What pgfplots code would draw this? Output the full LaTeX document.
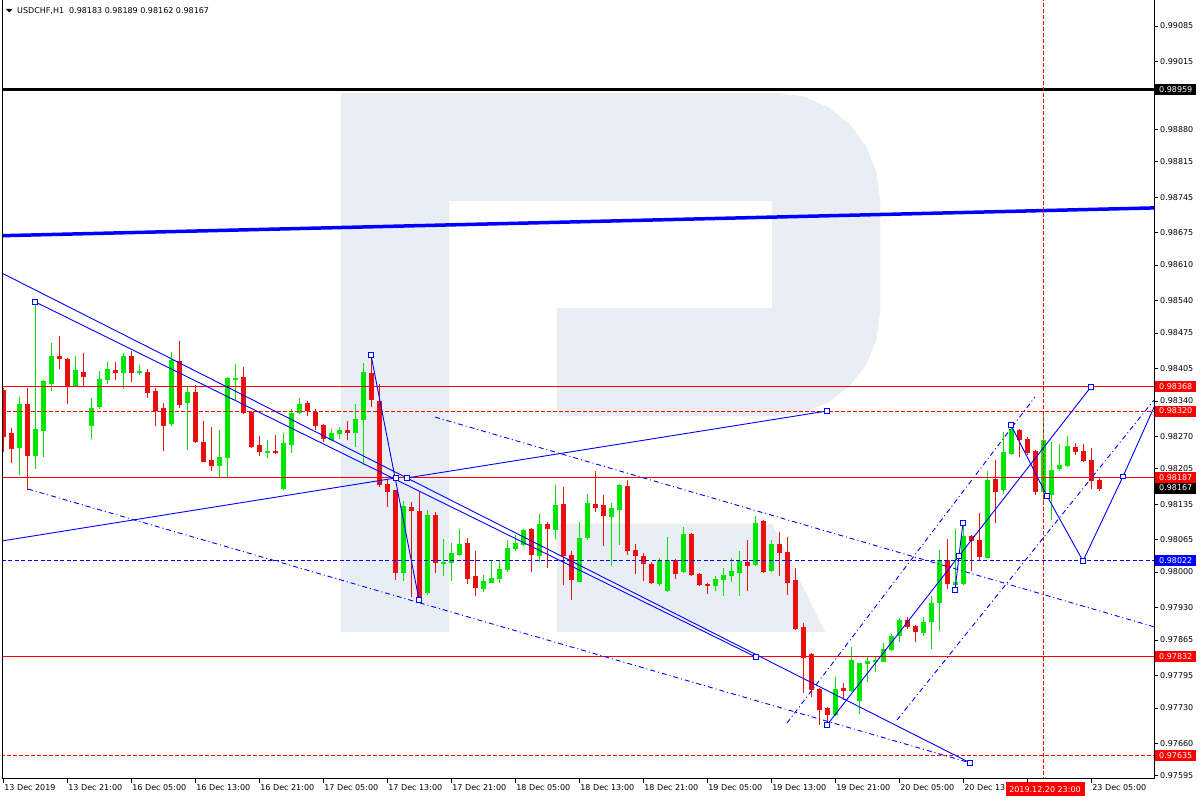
\documentclass[border=0pt]{standalone}
\usepackage{fontspec}
\setmainfont{DejaVu Sans}
\usepackage{pgfplots}
\pgfplotsset{compat=1.18}
\usepackage{pgfplotstable}
\definecolor{bull}{RGB}{0,230,0}
\definecolor{bear}{RGB}{232,16,16}
\definecolor{wm}{RGB}{233,238,245}
\definecolor{mtred}{RGB}{255,0,0}
\definecolor{mtblue}{RGB}{0,0,255}

\pgfplotstableread{
x o h l c
2 0.98247 0.98348 0.98193 0.98334
4 0.98231 0.98537 0.98205 0.98284
5 0.98282 0.98382 0.98229 0.98380
6 0.98376 0.98455 0.98360 0.98431
9 0.98370 0.98429 0.98368 0.98402
11 0.98292 0.98346 0.98264 0.98326
12 0.98328 0.98400 0.98324 0.98384
13 0.98382 0.98419 0.98376 0.98404
15 0.98396 0.98435 0.98364 0.98429
17 0.98396 0.98413 0.98394 0.98400
21 0.98294 0.98439 0.98292 0.98421
23 0.98336 0.98370 0.98245 0.98358
27 0.98211 0.98284 0.98191 0.98229
28 0.98227 0.98388 0.98189 0.98386
29 0.98382 0.98413 0.98340 0.98386
33 0.98237 0.98262 0.98227 0.98241
35 0.98165 0.98276 0.98163 0.98256
36 0.98254 0.98324 0.98237 0.98318
37 0.98318 0.98346 0.98316 0.98334
41 0.98264 0.98286 0.98262 0.98278
42 0.98276 0.98288 0.98264 0.98284
44 0.98278 0.98334 0.98249 0.98306
45 0.98304 0.98417 0.98213 0.98398
50 0.97998 0.98143 0.97984 0.98131
53 0.97958 0.98123 0.97954 0.98113
55 0.98016 0.98066 0.97992 0.98020
56 0.98018 0.98058 0.97982 0.98038
57 0.98034 0.98086 0.98032 0.98056
60 0.97966 0.97996 0.97962 0.97982
61 0.97980 0.98022 0.97978 0.97990
62 0.97988 0.98022 0.97978 0.98008
63 0.98006 0.98064 0.98002 0.98048
64 0.98046 0.98074 0.98042 0.98058
65 0.98054 0.98086 0.98052 0.98084
67 0.98032 0.98115 0.98020 0.98096
69 0.98084 0.98175 0.98068 0.98133
72 0.97982 0.98099 0.97980 0.98068
73 0.98068 0.98155 0.98064 0.98137
76 0.98111 0.98137 0.98012 0.98129
77 0.98125 0.98175 0.98054 0.98173
82 0.97978 0.98028 0.97972 0.98024
83 0.97964 0.98070 0.97962 0.98024
85 0.98000 0.98090 0.97998 0.98076
89 0.97974 0.97994 0.97964 0.97988
90 0.97984 0.98010 0.97954 0.97994
91 0.97992 0.98028 0.97982 0.98002
92 0.98000 0.98042 0.97952 0.98022
94 0.98016 0.98113 0.98014 0.98099
96 0.98002 0.98064 0.98000 0.98056
104 0.97716 0.97792 0.97714 0.97768
106 0.97766 0.97853 0.97764 0.97827
107 0.97744 0.97821 0.97720 0.97819
108 0.97817 0.97833 0.97784 0.97823
109 0.97821 0.97835 0.97803 0.97825
110 0.97823 0.97859 0.97821 0.97849
111 0.97847 0.97879 0.97845 0.97873
112 0.97873 0.97909 0.97863 0.97905
115 0.97879 0.97911 0.97873 0.97901
116 0.97901 0.97952 0.97847 0.97939
117 0.97939 0.98044 0.97883 0.98024
119 0.97976 0.98086 0.97964 0.97982
120 0.97978 0.98098 0.97976 0.98072
123 0.98030 0.98201 0.98028 0.98185
125 0.98163 0.98278 0.98155 0.98239
126 0.98235 0.98292 0.98233 0.98284
130 0.98159 0.98316 0.98133 0.98262
131 0.98155 0.98258 0.98103 0.98203
132 0.98205 0.98256 0.98203 0.98213
133 0.98211 0.98270 0.98209 0.98251
}\bulltab

\pgfplotstableread{
x o h l c
0 0.98362 0.98366 0.98239 0.98270
1 0.98276 0.98286 0.98217 0.98245
3 0.98334 0.98368 0.98165 0.98231
7 0.98431 0.98469 0.98404 0.98425
8 0.98423 0.98425 0.98334 0.98370
10 0.98398 0.98435 0.98368 0.98388
14 0.98402 0.98417 0.98382 0.98396
16 0.98429 0.98439 0.98378 0.98396
18 0.98398 0.98404 0.98346 0.98356
19 0.98360 0.98366 0.98290 0.98322
20 0.98326 0.98336 0.98241 0.98292
22 0.98421 0.98459 0.98326 0.98334
24 0.98358 0.98372 0.98256 0.98258
25 0.98260 0.98300 0.98219 0.98221
26 0.98223 0.98288 0.98201 0.98211
30 0.98388 0.98407 0.98314 0.98318
31 0.98318 0.98320 0.98247 0.98249
32 0.98252 0.98272 0.98233 0.98239
34 0.98241 0.98272 0.98235 0.98237
38 0.98336 0.98340 0.98310 0.98320
39 0.98320 0.98324 0.98284 0.98292
40 0.98294 0.98296 0.98260 0.98266
43 0.98284 0.98302 0.98264 0.98278
46 0.98396 0.98431 0.98328 0.98342
47 0.98340 0.98374 0.98169 0.98173
48 0.98175 0.98185 0.98131 0.98161
49 0.98163 0.98165 0.97986 0.97998
51 0.98129 0.98139 0.97950 0.98121
52 0.98121 0.98163 0.97945 0.97950
54 0.98113 0.98121 0.98000 0.98018
58 0.98058 0.98068 0.97978 0.97988
59 0.97992 0.98042 0.97954 0.97968
66 0.98086 0.98088 0.98000 0.98034
68 0.98096 0.98099 0.98008 0.98086
70 0.98135 0.98169 0.97974 0.98032
71 0.98034 0.98044 0.97945 0.97984
74 0.98137 0.98201 0.98119 0.98129
75 0.98133 0.98155 0.98054 0.98111
78 0.98171 0.98183 0.98034 0.98042
79 0.98044 0.98056 0.97996 0.98032
80 0.98032 0.98038 0.97984 0.98016
81 0.98018 0.98020 0.97978 0.97980
84 0.98024 0.98026 0.97986 0.97998
86 0.98076 0.98078 0.97992 0.97994
87 0.97998 0.98000 0.97974 0.97976
88 0.97978 0.97980 0.97958 0.97974
93 0.98020 0.98064 0.97964 0.98014
95 0.98101 0.98103 0.97998 0.98000
97 0.98056 0.98080 0.97994 0.98038
98 0.98040 0.98070 0.97954 0.97980
99 0.97984 0.98008 0.97885 0.97887
100 0.97891 0.97901 0.97762 0.97831
101 0.97837 0.97839 0.97752 0.97766
102 0.97768 0.97770 0.97696 0.97726
103 0.97730 0.97732 0.97696 0.97716
105 0.97770 0.97780 0.97746 0.97764
113 0.97905 0.97911 0.97887 0.97891
114 0.97893 0.97895 0.97861 0.97881
118 0.98024 0.98066 0.97968 0.97976
121 0.98072 0.98074 0.98002 0.98062
122 0.98064 0.98119 0.98026 0.98030
124 0.98185 0.98223 0.98099 0.98159
127 0.98284 0.98286 0.98231 0.98264
128 0.98266 0.98268 0.98233 0.98239
129 0.98241 0.98243 0.98153 0.98159
134 0.98249 0.98256 0.98233 0.98239
135 0.98241 0.98254 0.98219 0.98221
136 0.98223 0.98247 0.98167 0.98181
137 0.98183 0.98189 0.98162 0.98167
}\beartab

\tikzset{plab/.style={anchor=west, inner xsep=3.8bp, inner ysep=0pt, minimum height=11bp,
  text=white, font=\fontsize{8bp}{9bp}\selectfont, text height=5.8bp, text depth=0bp}}

\begin{document}
\begin{tikzpicture}
\useasboundingbox (0,0) rectangle (1200bp,800bp);
\fill[white] (0,0) rectangle (1200bp,800bp);
\begin{axis}[
  at={(2.5bp,21bp)}, anchor=south west, scale only axis,
  width=1151.5bp, height=779bp,
  xmin=-0.0625, xmax=143.875, ymin=0.975888, ymax=0.991367,
  axis line style={draw=none},
  tick align=outside, major tick length=4bp,
  tick style={black, line width=0.8bp},
  xtick pos=left, ytick pos=right, yticklabel pos=right,
  xtick={0,8,16,24,32,40,48,56,64,72,80,88,96,104,112,120,128,136},
  xticklabels={13 Dec 2019, 13 Dec 21:00, 16 Dec 05:00, 16 Dec 13:00, 16 Dec 21:00, 17 Dec 05:00, 17 Dec 13:00, 17 Dec 21:00, 18 Dec 05:00, 18 Dec 13:00, 18 Dec 21:00, 19 Dec 05:00, 19 Dec 13:00, 19 Dec 21:00, 20 Dec 05:00, 20 Dec 13:00, {}, 23 Dec 05:00},
  ytick={0.97595,0.97660,0.97730,0.97795,0.97865,0.97930,0.98000,0.98065,0.98135,0.98205,0.98270,0.98340,0.98405,0.98475,0.98540,0.98610,0.98675,0.98745,0.98815,0.98880,0.98950,0.99015,0.99085},
  yticklabels={0.97595,0.97660,0.97730,0.97795,0.97865,0.97930,0.98000,0.98065,0.98135,0.98205,0.98270,0.98340,0.98405,0.98475,0.98540,0.98610,0.98675,0.98745,0.98815,0.98880,{},0.99015,0.99085},
  tick label style={font=\fontsize{8bp}{9bp}\selectfont, text=black},
  xticklabel style={anchor=north west, inner sep=0pt, xshift=1.2bp, yshift=-1.5bp},
  yticklabel style={anchor=west, inner sep=0pt, xshift=2bp},
  minor tick num=0,
]
% watermark
\addplot[fill=wm, draw=none] coordinates {
 (42.25,0.98952) (96.75,0.98952) (100.09,0.989448) (103.19,0.989234) (105.85,0.988894)
 (107.9,0.98846) (109.19,0.987944) (109.625,0.98739) (109.625,0.98515) (109.19,0.984616)
 (107.9,0.98412) (105.85,0.983704) (103.19,0.983376) (100.09,0.98317) (96.75,0.98310)
 (69.25,0.98310) (69.25,0.98525) (96.125,0.98525) (96.125,0.98737) (55.75,0.98737)
 (55.75,0.97881) (42.25,0.97881)} -- cycle;
\addplot[fill=wm, draw=none] coordinates {
 (69.25,0.98096) (96.125,0.98096) (102.75,0.97881) (69.25,0.97881)} -- cycle;

% candles
\addplot[draw=none, mark=none, error bars/.cd, y dir=both, y explicit, error mark=none,
  error bar style={draw=bull, line width=1bp}]
  table[x=x, y expr={(\thisrow{h}+\thisrow{l})/2}, y error expr={(\thisrow{h}-\thisrow{l})/2}] {\bulltab};
\addplot[draw=none, mark=none, error bars/.cd, y dir=both, y explicit, error mark=none,
  error bar style={draw=bull, line width=5bp}]
  table[x=x, y expr={(\thisrow{o}+\thisrow{c})/2}, y error expr={max(abs(\thisrow{c}-\thisrow{o})/2,0.000012)}] {\bulltab};
\addplot[draw=none, mark=none, error bars/.cd, y dir=both, y explicit, error mark=none,
  error bar style={draw=bear, line width=1bp}]
  table[x=x, y expr={(\thisrow{h}+\thisrow{l})/2}, y error expr={(\thisrow{h}-\thisrow{l})/2}] {\beartab};
\addplot[draw=none, mark=none, error bars/.cd, y dir=both, y explicit, error mark=none,
  error bar style={draw=bear, line width=5bp}]
  table[x=x, y expr={(\thisrow{o}+\thisrow{c})/2}, y error expr={max(abs(\thisrow{c}-\thisrow{o})/2,0.000012)}] {\beartab};

% horizontal levels
\addplot[mtred, line width=1bp] coordinates {(-1,0.98368) (145,0.98368)};
\addplot[mtred, line width=1bp, dash pattern=on 4bp off 2bp] coordinates {(-1,0.98320) (145,0.98320)};
\addplot[mtred, line width=1bp] coordinates {(-1,0.98187) (145,0.98187)};
\addplot[mtblue, line width=1bp, dash pattern=on 4bp off 2.5bp] coordinates {(-1,0.98022) (145,0.98022)};
\addplot[mtred, line width=1bp] coordinates {(-1,0.97832) (145,0.97832)};
\addplot[mtred, line width=1bp, dash pattern=on 4bp off 2bp] coordinates {(-1,0.97635) (145,0.97635)};
\addplot[black, line width=3bp] coordinates {(-1,0.98959) (145,0.98959)};
\addplot[mtblue, line width=3.5bp] coordinates {(-1,0.98668) (145,0.98724)};
\addplot[mtred, line width=1bp, dash pattern=on 3.5bp off 2.5bp] coordinates {(130,0.9755) (130,0.9920)};

% trend lines
\addplot[mtblue, line width=0.9bp] coordinates {(-1.625,0.98606) (120.875,0.97621)};
\addplot[mtblue, line width=0.9bp] coordinates {(4,0.98537) (94.125,0.97831)};
\addplot[mtblue, line width=0.9bp] coordinates {(46,0.98431) (52,0.97945)};
\addplot[mtblue, line width=0.9bp] coordinates {(-1.625,0.98058) (49.125,0.98187)};
\addplot[mtblue, line width=0.9bp] coordinates {(50.5,0.98187) (103,0.98320)};
\addplot[mtblue, line width=0.9bp] coordinates {(103,0.97696) (136,0.98368)};
\addplot[mtblue, line width=0.9bp] coordinates {(119,0.97964) (119.5,0.98032) (120,0.98098)};
\addplot[mtblue, line width=0.9bp] coordinates {(126,0.98292) (130.5,0.98151) (135,0.98022) (140,0.98190) (144.625,0.98354)};
\addplot[mtblue, line width=0.9bp, dash pattern=on 5bp off 3bp on 1bp off 3bp] coordinates {(3.125,0.98165) (120.875,0.97621)};
\addplot[mtblue, line width=0.9bp, dash pattern=on 5bp off 3bp on 1bp off 3bp] coordinates {(54,0.98308) (145,0.97886)};
\addplot[mtblue, line width=0.9bp, dash pattern=on 5bp off 3bp on 1bp off 3bp] coordinates {(98,0.97700) (129,0.98348)};
\addplot[mtblue, line width=0.9bp, dash pattern=on 5bp off 3bp on 1bp off 3bp] coordinates {(111.75,0.97706) (145,0.98364)};

% anchor markers
\addplot[only marks, mark=square*, mark size=2.3bp, mark options={draw=mtblue, fill=white, line width=0.8bp}] coordinates {
 (4,0.98537) (46,0.98431) (49.125,0.98187) (50.5,0.98187) (52,0.97945) (94.125,0.97831)
 (103,0.98320) (103,0.97696) (120.875,0.97621) (119,0.97964) (119.5,0.98032) (120,0.98098)
 (126,0.98292) (130.5,0.98151) (135,0.98022) (140,0.98190) (136,0.98368)};

\coordinate (pA) at (axis cs:143.875,0.98959);
\coordinate (pB) at (axis cs:143.875,0.98368);
\coordinate (pC) at (axis cs:143.875,0.98320);
\coordinate (pD) at (axis cs:143.875,0.98187);
\coordinate (pE) at (axis cs:143.875,0.98167);
\coordinate (pF) at (axis cs:143.875,0.98022);
\coordinate (pG) at (axis cs:143.875,0.97832);
\coordinate (pH) at (axis cs:143.875,0.97635);
\coordinate (pT) at (axis cs:130,0.975888);
\end{axis}

% frame
\draw[black, line width=1bp] (2.5bp,800bp) -- (2.5bp,21bp) -- (1154bp,21bp) -- (1154bp,800bp);

% price labels
\node[plab, fill=black] at ([xshift=1.2bp]pA) {0.98959};
\node[plab, fill=mtred] at ([xshift=1.2bp]pB) {0.98368};
\node[plab, fill=mtred] at ([xshift=1.2bp]pC) {0.98320};
\node[plab, fill=mtred] at ([xshift=1.2bp]pD) {0.98187};
\node[plab, fill=black] at ([xshift=1.2bp]pE) {0.98167};
\node[plab, fill=mtblue] at ([xshift=1.2bp]pF) {0.98022};
\node[plab, fill=mtred] at ([xshift=1.2bp]pG) {0.97832};
\node[plab, fill=mtred] at ([xshift=1.2bp]pH) {0.97635};

% time label
\node[anchor=north, fill=mtred, text=white, inner xsep=3.8bp, inner ysep=0pt, minimum height=14bp,
  font=\fontsize{8bp}{9bp}\selectfont, text height=5.8bp, text depth=0bp]
  at ([xshift=2bp, yshift=-3bp]pT) {2019.12.20 23:00};

% header
\fill[black] (6bp,791bp) -- (12.5bp,791bp) -- (9.25bp,787.5bp) -- cycle;
\node[anchor=west, inner sep=0pt, font=\fontsize{8bp}{9bp}\selectfont] at (17bp,789bp)
  {USDCHF,H1\hspace{5bp}0.98183 0.98189 0.98162 0.98167};
\end{tikzpicture}
\end{document}
